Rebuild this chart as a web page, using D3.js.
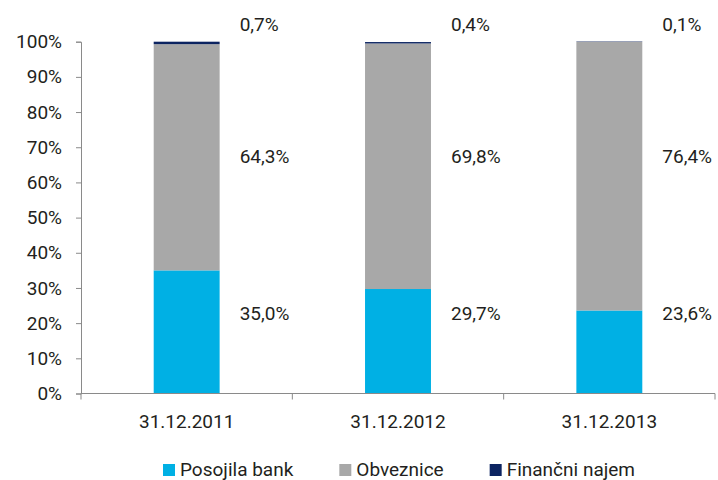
<!DOCTYPE html>
<html>
<head>
<meta charset="utf-8">
<script src="https://cdn.jsdelivr.net/npm/d3@7"></script>
<style>
  body { margin: 0; background: #fff; }
  svg text { font-family: Roboto, "Noto Sans", sans-serif; fill: #231f20; }
</style>
</head>
<body>
<div id="chart"></div>
<script>
// categories and series (shares of total)
const dates = ["31.12.2011", "31.12.2012", "31.12.2013"];
const seriesNames = ["Posojila bank", "Obveznice", "Finančni najem"];
const posojila = [35.0, 29.7, 23.6];
const obveznice = [64.3, 69.8, 76.4];
const najem = [0.7, 0.4, 0.1];
const yTicks = [0, 10, 20, 30, 40, 50, 60, 70, 80, 90, 100];

const colors = ["#00b0e4", "#a8a8a8", "#0c2461"];

const W = 718, H = 480;
const svg = d3.select("#chart").append("svg")
  .attr("width", W).attr("height", H);

// build rows for the stack
const rows = dates.map((d, i) => ({
  date: d,
  "Posojila bank": posojila[i],
  "Obveznice": obveznice[i],
  "Finančni najem": najem[i]
}));
const stacked = d3.stack().keys(seriesNames)(rows);

const x = d3.scaleBand()
  .domain(dates)
  .range([81, 715])
  .paddingInner(0.688)
  .paddingOuter(0.344);

const y = d3.scaleLinear()
  .domain([0, 100])
  .range([393.5, 41.7]);

// bars
svg.append("g")
  .selectAll("g")
  .data(stacked)
  .join("g")
    .attr("fill", (d, i) => colors[i])
  .selectAll("rect")
  .data(d => d)
  .join("rect")
    .attr("x", d => x(d.data.date))
    .attr("width", x.bandwidth())
    .attr("y", d => y(d[1]))
    .attr("height", d => y(d[0]) - y(d[1]));

// y axis
const yAxis = svg.append("g")
  .attr("transform", "translate(81,0)")
  .call(d3.axisLeft(y).tickValues(yTicks).tickSize(5).tickPadding(14)
    .tickFormat(d => d + "%"));
yAxis.selectAll("text").style("font-size", "19px");
yAxis.selectAll("line, path").attr("stroke", "#8a8a8a");

// x axis
const xAxis = svg.append("g")
  .attr("transform", "translate(0," + y(0) + ")")
  .call(d3.axisBottom(x).tickSize(0).tickPadding(21));
xAxis.select(".domain").attr("stroke", "#8a8a8a").attr("d", "M81,0H715");
xAxis.selectAll("text").style("font-size", "19px");

// category boundary ticks
const bounds = [0, 1, 2, 3].map(i => x.range()[0] + i * x.step());
xAxis.selectAll(".bound")
  .data(bounds)
  .join("line")
    .attr("class", "bound")
    .attr("x1", d => d).attr("x2", d => d)
    .attr("y1", 0).attr("y2", 6)
    .attr("stroke", "#8a8a8a");

// data labels: placed to the right of each bar, at a fixed level per series
const labelLevel = [22.8, 67.3, 104.8];
const fmt = v => d3.format(".1f")(v).replace(".", ",") + "%";
stacked.forEach((s, si) => {
  svg.append("g")
    .selectAll("text")
    .data(s)
    .join("text")
      .attr("x", d => x(d.data.date) + x.bandwidth() + 20)
      .attr("y", y(labelLevel[si]))
      .attr("dy", "0.35em")
      .style("font-size", "19px")
      .text(d => fmt(d[1] - d[0]));
});

// legend
const legend = svg.append("g");
let lx = 0;
seriesNames.forEach((name, i) => {
  const g = legend.append("g").attr("transform", "translate(" + lx + ",0)");
  g.append("rect")
    .attr("x", 0).attr("y", 464)
    .attr("width", 12).attr("height", 12)
    .attr("fill", colors[i]);
  const t = g.append("text")
    .attr("x", 17).attr("y", 475.5)
    .style("font-size", "19px")
    .text(name);
  lx += 17 + t.node().getComputedTextLength() + 46;
});
const legW = lx - 46;
legend.attr("transform", "translate(" + (399 - legW / 2) + ",0)");
</script>
</body>
</html>
